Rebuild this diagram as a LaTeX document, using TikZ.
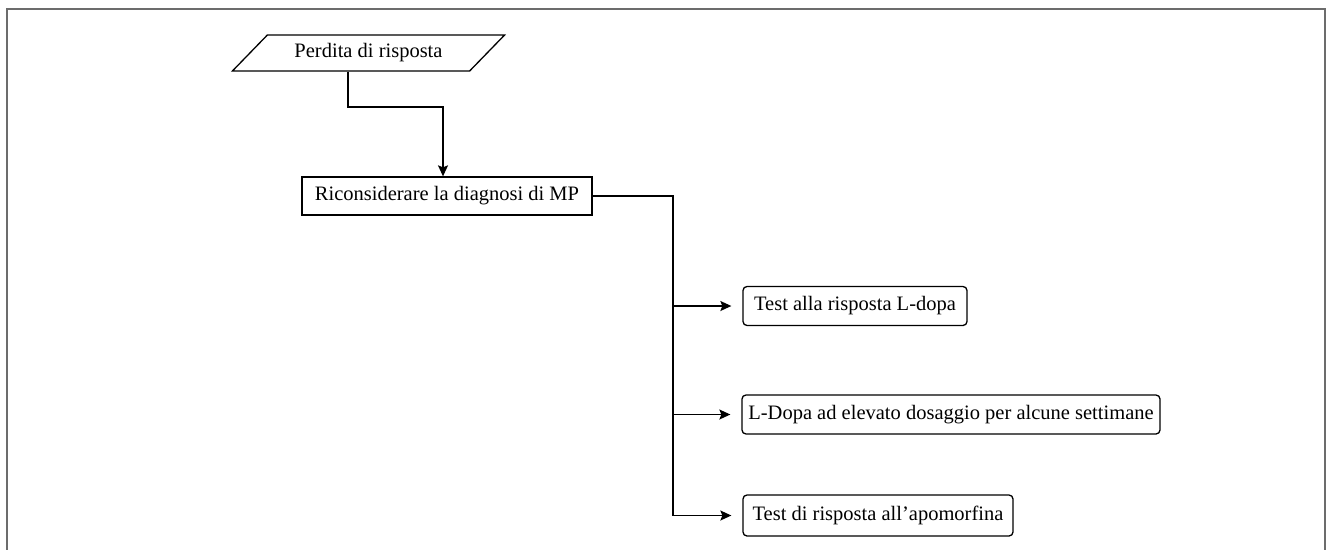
\documentclass[tikz,border=0pt]{standalone}
\usepackage{fontspec}
\setmainfont{Liberation Serif}
\usetikzlibrary{shapes.geometric,arrows.meta,calc}
\tikzset{
  boxstyle/.style={draw, line width=1.3pt, inner sep=0pt, font=\fontsize{20.5}{24}\selectfont},
  roundbox/.style={boxstyle, rounded corners=4pt},
  conn/.style={line width=1.3pt},
  arr/.style={conn, -{Stealth[length=11pt,width=10pt,inset=2pt]}}
}
\begin{document}
\begin{tikzpicture}[x=1pt,y=-1pt]
\useasboundingbox (0,0) rectangle (1335,549);
\fill[white] (0,0) rectangle (1335,549);
\draw[gray!85!black, line width=1.5pt] (7,570) -- (7,9) -- (1325,9) -- (1325,570);
\node[boxstyle, trapezium, trapezium left angle=36, trapezium right angle=144,
      trapezium stretches=true, minimum width=273pt, minimum height=36pt] (p) at (368.5,53) {Perdita di risposta};
\node[boxstyle, minimum width=290pt, minimum height=38pt] (mp) at (447,196) {Riconsiderare la diagnosi di MP};
\node[roundbox, minimum width=224pt, minimum height=39pt] (b1) at (855,306) {Test alla risposta L-dopa};
\node[roundbox, minimum width=418pt, minimum height=39pt] (b2) at (951,414.5) {L-Dopa ad elevato dosaggio per alcune settimane};
\node[roundbox, minimum width=270pt, minimum height=41pt] (b3) at (878,515.5) {Test di risposta all'apomorfina};
\coordinate (j1) at (348,107);
\coordinate (j2) at (443,107);
\coordinate (bus) at (673,196);
\draw[arr] (p.south -| j1) -- (j1) -- (j2) -- (j2 |- mp.north);
\draw[conn] (mp.east) -- (bus) -- (bus |- b3.west);
\draw[arr, shorten >=11pt] (bus |- b1.west) -- (b1.west);
\draw[arr, shorten >=11pt] (bus |- b2.west) -- (b2.west);
\draw[arr, shorten >=11pt] (bus |- b3.west) -- (b3.west);
\end{tikzpicture}
\end{document}
